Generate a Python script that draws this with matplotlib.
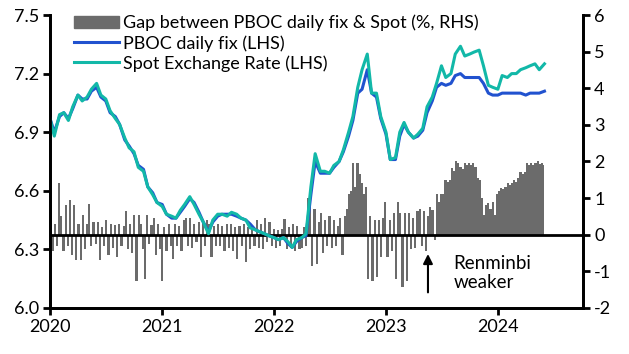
import numpy as np
import pandas as pd
import matplotlib
matplotlib.use("Agg")
import matplotlib.pyplot as plt
from matplotlib.patches import Patch
from matplotlib.lines import Line2D

plt.rcParams['font.family'] = ['Lato', 'DejaVu Sans']
plt.rcParams['axes.unicode_minus'] = False

# semi-monthly readings (1st and 15th), Jan 2020 - Jun 2024
spot = [
    # 2020
    6.97, 6.88, 6.99, 7.00, 6.96, 7.03, 7.09, 7.06, 7.08, 7.12, 7.15, 7.09,
    7.07, 7.01, 6.97, 6.94, 6.87, 6.82, 6.80, 6.72, 6.70, 6.62, 6.58, 6.54,
    # 2021
    6.52, 6.48, 6.47, 6.46, 6.50, 6.53, 6.57, 6.53, 6.48, 6.44, 6.38, 6.45,
    6.48, 6.48, 6.47, 6.49, 6.48, 6.46, 6.45, 6.41, 6.40, 6.39, 6.38, 6.37,
    # 2022
    6.36, 6.35, 6.36, 6.34, 6.31, 6.35, 6.36, 6.38, 6.62, 6.79, 6.70, 6.70,
    6.69, 6.73, 6.75, 6.81, 6.90, 6.98, 7.13, 7.22, 7.30, 7.10, 7.10, 6.98,
    # 2023
    6.90, 6.76, 6.77, 6.90, 6.95, 6.90, 6.87, 6.89, 6.92, 7.03, 7.08, 7.15,
    7.24, 7.18, 7.20, 7.30, 7.34, 7.29, 7.30, 7.31, 7.32, 7.24, 7.14, 7.13,
    # 2024
    7.12, 7.19, 7.18, 7.20, 7.20, 7.22, 7.23, 7.24, 7.25, 7.22, 7.25,
]
fix = [
    # 2020
    6.97, 6.90, 6.98, 7.00, 6.97, 7.02, 7.09, 7.07, 7.07, 7.11, 7.13, 7.08,
    7.06, 7.00, 6.98, 6.94, 6.86, 6.83, 6.79, 6.73, 6.71, 6.62, 6.59, 6.54,
    # 2021
    6.53, 6.48, 6.46, 6.46, 6.49, 6.52, 6.56, 6.54, 6.49, 6.44, 6.39, 6.44,
    6.47, 6.48, 6.48, 6.48, 6.47, 6.46, 6.45, 6.43, 6.40, 6.39, 6.38, 6.37,
    # 2022
    6.36, 6.35, 6.36, 6.33, 6.31, 6.34, 6.36, 6.37, 6.58, 6.75, 6.69, 6.69,
    6.69, 6.72, 6.75, 6.80, 6.88, 6.96, 7.10, 7.12, 7.22, 7.10, 7.08, 6.97,
    # 2023
    6.89, 6.76, 6.76, 6.88, 6.94, 6.90, 6.87, 6.88, 6.91, 7.00, 7.06, 7.13,
    7.15, 7.14, 7.15, 7.19, 7.20, 7.18, 7.18, 7.18, 7.18, 7.15, 7.10, 7.09,
    # 2024
    7.09, 7.10, 7.10, 7.10, 7.10, 7.10, 7.09, 7.10, 7.10, 7.10, 7.11,
]
line_dates = pd.date_range('2020-01-01', periods=len(spot), freq='SMS')

# weekly gap between fix and spot (%)
gap = [
    # 2020
    0.8, -0.45, 0.3, -0.3, 1.4,   0.5, -0.45, 0.8, -0.3,   0.95, -0.55, 0.8, -0.7,
    0.3, -0.7, 0.55, -0.4, 0.3,   0.85, -0.3, 0.35, -0.25,   0.35, -0.7, 0.2, -0.3,
    0.4, -0.55, 0.3, -0.35, 0.27,   -0.6, 0.3, -0.3, 0.25,   0.65, -0.4, 0.3, -0.5,
    0.55, -1.25, 0.55, 0.3, -0.4,   -1.2, 0.55, -0.25, 0.27,   0.45, -0.55, 0.3, -0.4,
    # 2021
    -1.25, 0.2, -0.45, 0.3, -0.3,   -0.65, 0.3, -0.3, 0.25,   -0.45, 0.4, 0.47, -0.3,
    0.45, -0.35, 0.3, -0.2, 0.35,   -0.6, 0.35, -0.3, 0.4,   0.3, -0.6, 0.25, -0.3,
    0.3, -0.3, 0.25, -0.45, 0.3,   -0.35, 0.28, -0.45, 0.2,   -0.65, 0.25, -0.3, 0.3,
    -0.75, 0.2, -0.4, 0.25, -0.3,   0.4, -0.35, 0.3, -0.4,   0.45, -0.2, 0.35, -0.3,
    # 2022
    0.15, -0.35, 0.12, -0.3, 0.15,   0.43, -0.4, 0.2, -0.35,   0.3, -0.45, 0.25, -0.4,
    -0.35, 0.2, -0.3, 1.0, 0.8,   -0.85, 0.7, -0.8, 0.35,   0.6, -0.5, 0.4, -0.3,
    0.5, -0.35, 0.4, -0.3, 0.25,   0.45, -0.55, 0.5, 0.7,   1.1, 1.2, 1.97, 1.3,
    1.95, 1.65, 1.4, 1.1, 1.3,   -1.2, 0.5, -1.25, 0.4,   -1.15, 0.4, -0.6, 0.45,
    # 2023
    0.9, -0.6, 0.4, -0.45, 0.6,   -1.2, 0.9, 0.6, -1.43,   0.6, -1.27, 0.6, -0.4,
    0.45, -0.35, 0.65, 0.7, -0.3,   0.65, -0.45, 0.5, 0.75,   0.68, -0.15, 1.1, 0.9,
    1.1, 1.1, 1.5, 1.45, 1.5,   1.82, 1.75, 2.0, 1.95,   1.86, 1.8, 1.95, 1.9,
    1.95, 1.9, 1.95, 1.85, 1.55,   1.5, 1.0, 0.55, 0.8,   0.86, 0.7, 0.9, 0.55,
    # 2024
    1.1, 1.2, 1.27, 1.25, 1.3,   1.4, 1.35, 1.4, 1.5,   1.45, 1.55, 1.7, 1.65,
    1.7, 1.95, 1.9, 1.95, 1.9,   1.95, 2.0, 1.92, 1.95,   1.9,
]
gap_dates = pd.date_range('2020-01-03', periods=len(gap), freq='7D')

years = ['2020', '2021', '2022', '2023', '2024']

fig = plt.figure(figsize=(6.29, 3.54), dpi=100)
ax = fig.add_axes([0.0795, 0.13, 0.8475, 0.8276])
ax2 = ax.twinx()

bar_col = '#6b6b6b'
fix_col = '#2152cf'
spot_col = '#12b8a8'

# weekly bars drawn as one stepped area so neighbouring weeks touch
ax2.fill_between(gap_dates, 0, gap, step='mid', color=bar_col, lw=0)
ax2.axhline(0, color='black', lw=2)
ax2.set_ylim(-2, 6)
ax2.set_yticks(range(-2, 7))

ax.set_zorder(ax2.get_zorder() + 1)
ax.patch.set_visible(False)
ax.plot(line_dates, fix, color=fix_col, lw=2.2)
ax.plot(line_dates, spot, color=spot_col, lw=2.2)
ax.set_ylim(6.0, 7.5)
ax.set_yticks([6.0, 6.3, 6.6, 6.9, 7.2, 7.5])
ax.yaxis.set_major_formatter(matplotlib.ticker.FormatStrFormatter('%.1f'))

ax.set_xlim(pd.Timestamp('2020-01-01'), pd.Timestamp('2024-10-05'))
ax.set_xticks([pd.Timestamp(y + '-01-01') for y in years])
ax.set_xticklabels(years)

for a in (ax, ax2):
    for s in a.spines.values():
        s.set_linewidth(2)
    a.spines['top'].set_visible(False)
    a.tick_params(width=2, length=5, labelsize=13, direction='out', pad=3)

handles = [Patch(color=bar_col), Line2D([], [], color=fix_col, lw=2.2),
           Line2D([], [], color=spot_col, lw=2.2)]
labels = ['Gap between PBOC daily fix & Spot (%, RHS)', 'PBOC daily fix (LHS)',
          'Spot Exchange Rate (LHS)']
ax.legend(handles, labels, loc='upper left', bbox_to_anchor=(0.032, 1.025),
          frameon=False, fontsize=13, handlelength=2.5, handletextpad=0.2,
          labelspacing=0.2, borderaxespad=0)

ax2.annotate('', xy=(pd.Timestamp('2023-05-18'), -0.45),
             xytext=(pd.Timestamp('2023-05-18'), -1.65),
             arrowprops=dict(arrowstyle='-|>', color='black', lw=1.5,
                             mutation_scale=14))
ax2.text(pd.Timestamp('2023-08-10'), -1.05, 'Renminbi\nweaker', fontsize=13.5,
         va='center', ha='left', linespacing=1.1)

fig.savefig('out.png', dpi=100)
